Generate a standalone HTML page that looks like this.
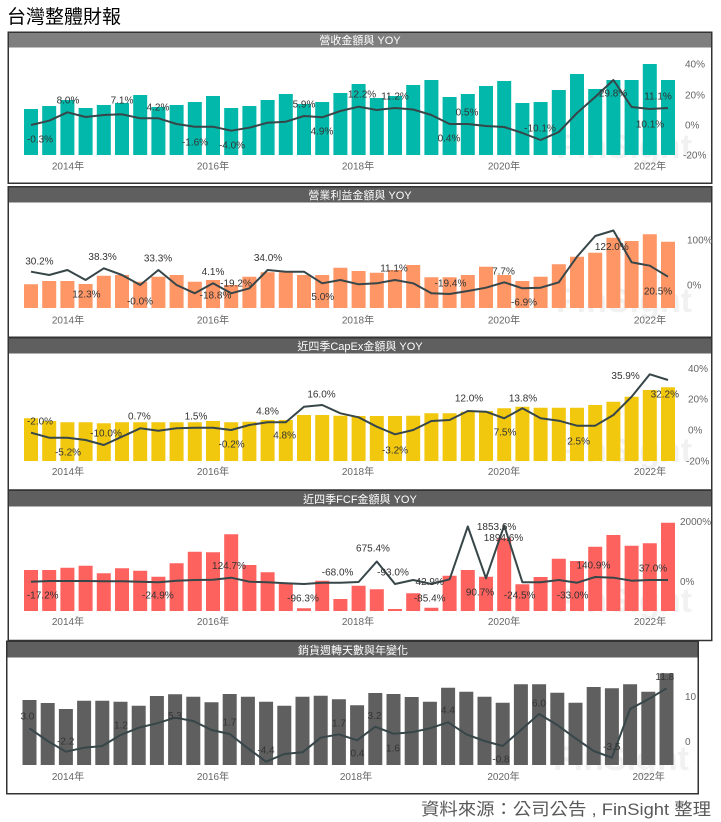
<!DOCTYPE html>
<html><head><meta charset="utf-8"><style>
html,body{margin:0;padding:0;background:#fff;}
svg{display:block;}
.t{font-family:"Liberation Sans","Noto Sans CJK TC",sans-serif;}
.lb{font-family:"Liberation Sans",sans-serif;font-size:10px;fill:#333;text-anchor:middle;}
.yr{font-family:"Liberation Sans","Noto Sans CJK TC",sans-serif;font-size:10px;fill:#666;text-anchor:middle;}
.ax{font-family:"Liberation Sans",sans-serif;font-size:10px;fill:#666;}
.tt{font-family:"Liberation Sans","Noto Sans CJK TC",sans-serif;font-size:11px;fill:#fff;text-anchor:middle;}
.wm{font-family:"Liberation Sans",sans-serif;font-size:34px;font-weight:bold;fill:#f1f1f1;}
.ln{fill:none;stroke:#374649;stroke-width:2;stroke-linejoin:round;}
</style></head><body>
<svg width="721" height="822" viewBox="0 0 721 822" xmlns="http://www.w3.org/2000/svg">
<rect width="721" height="822" fill="#fff"/>
<text class="t" x="7" y="23" font-size="19" fill="#000">台灣整體財報</text>

<!-- Panel 1 -->
<rect x="8.25" y="32.25" width="703.5" height="151" fill="#fff" stroke="#333" stroke-width="1.5"/>
<rect x="9" y="33" width="702" height="14.5" fill="#7f7f7f"/>
<text class="tt" x="360" y="44">營收金額與 YOY</text>
<text class="wm" x="556" y="158">FinSight</text>
<path fill="#01B8AA" d="M24 155V109h14V155z M42.2 155V106h14V155z M60.4 155V100h14V155z M78.6 155V108h14V155z M96.8 155V105h14V155z M115 155V103h14V155z M133.2 155V95h14V155z M151.4 155V107h14V155z M169.6 155V105h14V155z M187.8 155V102h14V155z M206 155V96h14V155z M224.2 155V108h14V155z M242.4 155V106h14V155z M260.6 155V100h14V155z M278.8 155V94h14V155z M297 155V104h14V155z M315.2 155V102h14V155z M333.4 155V93h14V155z M351.6 155V84h14V155z M369.8 155V98h14V155z M388 155V96h14V155z M406.2 155V85h14V155z M424.4 155V80h14V155z M442.6 155V97h14V155z M460.8 155V94h14V155z M479 155V86h14V155z M497.2 155V81h14V155z M515.4 155V103h14V155z M533.6 155V102h14V155z M551.8 155V90h14V155z M570 155V74h14V155z M588.2 155V89h14V155z M606.4 155V80h14V155z M624.6 155V80h14V155z M642.8 155V64h14V155z M661 155V80h14V155z"/>
<polyline class="ln" points="31,125 49.2,120.7 67.4,112.3 85.6,117 103.8,115 122,114.3 140.2,118.3 158.4,118.3 176.6,124 194.8,126.7 213,126.7 231.2,130.7 249.4,127.7 267.6,122.7 285.8,121.7 304,116 322.2,117.3 340.4,111 358.6,106.7 376.8,110 395,108 413.2,109.5 431.4,115 449.6,124 467.8,124 486,126 504.2,127 522.4,133 540.6,140 558.8,132 577,113 595.2,97 613.4,80 631.6,107 649.8,109 668,108"/>
<text class="lb" x="40" y="142.5">-0.3%</text>
<text class="lb" x="68" y="103.5">8.0%</text>
<text class="lb" x="122" y="103.5">7.1%</text>
<text class="lb" x="158" y="110.5">4.2%</text>
<text class="lb" x="195" y="145.5">-1.6%</text>
<text class="lb" x="232" y="148.5">-4.0%</text>
<text class="lb" x="304" y="107.5">5.9%</text>
<text class="lb" x="322" y="134.5">4.9%</text>
<text class="lb" x="362" y="97.5">12.2%</text>
<text class="lb" x="395" y="99.5">11.2%</text>
<text class="lb" x="467" y="115.5">0.5%</text>
<text class="lb" x="449" y="141.5">0.4%</text>
<text class="lb" x="540" y="131.5">-10.1%</text>
<text class="lb" x="613" y="96.5">29.8%</text>
<text class="lb" x="658" y="99.5">11.1%</text>
<text class="lb" x="650" y="127.5">10.1%</text>
<text class="yr" x="68" y="169.5">2014年</text>
<text class="yr" x="213" y="169.5">2016年</text>
<text class="yr" x="358" y="169.5">2018年</text>
<text class="yr" x="504" y="169.5">2020年</text>
<text class="yr" x="650" y="169.5">2022年</text>
<text class="ax" x="685" y="67.5">40%</text>
<text class="ax" x="685" y="98.5">20%</text>
<text class="ax" x="685" y="128.5">0%</text>
<text class="ax" x="683" y="158.5">-20%</text>

<!-- Panel 2 -->
<rect x="8.25" y="186.75" width="703.5" height="150.5" fill="#fff" stroke="#333" stroke-width="1.5"/>
<rect x="9" y="187.5" width="702" height="15" fill="#5f5f5f"/>
<text class="tt" x="360" y="199">營業利益金額與 YOY</text>
<text class="wm" x="556" y="312">FinSight</text>
<path fill="#FE9666" d="M24 308V284.3h14V308z M42.2 308V281h14V308z M60.4 308V281h14V308z M78.6 308V284h14V308z M96.8 308V275.7h14V308z M115 308V275h14V308z M133.2 308V281.7h14V308z M151.4 308V276.7h14V308z M169.6 308V275h14V308z M187.8 308V281.7h14V308z M206 308V280h14V308z M224.2 308V285h14V308z M242.4 308V276.7h14V308z M260.6 308V272.3h14V308z M278.8 308V272.3h14V308z M297 308V275h14V308z M315.2 308V275h14V308z M333.4 308V267.7h14V308z M351.6 308V271h14V308z M369.8 308V272.7h14V308z M388 308V270h14V308z M406.2 308V265h14V308z M424.4 308V277.3h14V308z M442.6 308V277.3h14V308z M460.8 308V275h14V308z M479 308V266.7h14V308z M497.2 308V275h14V308z M515.4 308V281h14V308z M533.6 308V276.7h14V308z M551.8 308V264.3h14V308z M570 308V256.7h14V308z M588.2 308V252.7h14V308z M606.4 308V237.7h14V308z M624.6 308V241h14V308z M642.8 308V234.3h14V308z M661 308V241.7h14V308z"/>
<polyline class="ln" points="31,271.7 49.2,275 67.4,270 85.6,280 103.8,268.3 122,275 140.2,285 158.4,270 176.6,285 194.8,293.3 213,283.3 231.2,293.3 249.4,288.3 267.6,270 285.8,271.7 304,271.7 322.2,283.3 340.4,280 358.6,284.3 376.8,283.3 395,280 413.2,283.3 431.4,293.3 449.6,294 467.8,291 486,287.7 504.2,282.3 522.4,288.3 540.6,287.7 558.8,282.3 577,256.7 595.2,236 613.4,230.5 631.6,262.3 649.8,265.7 668,276.7"/>
<text class="lb" x="39.4" y="264.5">30.2%</text>
<text class="lb" x="102.6" y="260">38.3%</text>
<text class="lb" x="86.4" y="297.5">12.3%</text>
<text class="lb" x="158" y="261.5">33.3%</text>
<text class="lb" x="140" y="304.5">-0.0%</text>
<text class="lb" x="213" y="275">4.1%</text>
<text class="lb" x="236" y="286.5">-19.2%</text>
<text class="lb" x="215.5" y="298.5">-18.8%</text>
<text class="lb" x="268" y="261">34.0%</text>
<text class="lb" x="322.8" y="300">5.0%</text>
<text class="lb" x="394" y="271.5">11.1%</text>
<text class="lb" x="450.5" y="286.5">-19.4%</text>
<text class="lb" x="503.5" y="274.5">7.7%</text>
<text class="lb" x="524" y="305.5">-6.9%</text>
<text class="lb" x="611.8" y="250">122.0%</text>
<text class="lb" x="658" y="294.5">20.5%</text>
<text class="yr" x="68" y="323.5">2014年</text>
<text class="yr" x="213" y="323.5">2016年</text>
<text class="yr" x="358" y="323.5">2018年</text>
<text class="yr" x="504" y="323.5">2020年</text>
<text class="yr" x="650" y="323.5">2022年</text>
<text class="ax" x="687" y="243.5">100%</text>
<text class="ax" x="687" y="288.5">0%</text>

<!-- Panel 3 -->
<rect x="8.25" y="337.75" width="703.5" height="152.25" fill="#fff" stroke="#333" stroke-width="1.5"/>
<rect x="9" y="338.5" width="702" height="15" fill="#5f5f5f"/>
<text class="tt" x="360" y="350">近四季CapEx金額與 YOY</text>
<text class="wm" x="556" y="462">FinSight</text>
<path fill="#F2C80F" d="M24 461V418.3h14V461z M42.2 461V421h14V461z M60.4 461V422.3h14V461z M78.6 461V422.3h14V461z M96.8 461V423.3h14V461z M115 461V422.3h14V461z M133.2 461V422.3h14V461z M151.4 461V422.3h14V461z M169.6 461V422.3h14V461z M187.8 461V422.3h14V461z M206 461V421h14V461z M224.2 461V422.3h14V461z M242.4 461V421.7h14V461z M260.6 461V420h14V461z M278.8 461V420h14V461z M297 461V415h14V461z M315.2 461V415h14V461z M333.4 461V415.7h14V461z M351.6 461V416h14V461z M369.8 461V416h14V461z M388 461V416h14V461z M406.2 461V415.7h14V461z M424.4 461V413.3h14V461z M442.6 461V413.3h14V461z M460.8 461V411.7h14V461z M479 461V411h14V461z M497.2 461V408.3h14V461z M515.4 461V406.7h14V461z M533.6 461V407.7h14V461z M551.8 461V407.7h14V461z M570 461V407.7h14V461z M588.2 461V405h14V461z M606.4 461V401.7h14V461z M624.6 461V396.7h14V461z M642.8 461V390h14V461z M661 461V387.3h14V461z"/>
<polyline class="ln" points="31,432.7 49.2,437.7 67.4,437.7 85.6,440 103.8,445 122,436.7 140.2,428.3 158.4,430.7 176.6,428.3 194.8,427.7 213,427.7 231.2,430 249.4,425 267.6,422.3 285.8,422.3 304,406.7 322.2,405 340.4,413.3 358.6,417.3 376.8,426.7 395,434.3 413.2,430 431.4,421 449.6,420 467.8,411 486,411.7 504.2,418.3 522.4,408.3 540.6,418.3 558.8,420.7 577,425.7 595.2,425.7 613.4,415 631.6,396.7 649.8,374.3 668,380"/>
<text class="lb" x="40" y="424.5">-2.0%</text>
<text class="lb" x="68" y="455.5">-5.2%</text>
<text class="lb" x="106" y="436.5">-10.0%</text>
<text class="lb" x="139.4" y="419.5">0.7%</text>
<text class="lb" x="196" y="419.5">1.5%</text>
<text class="lb" x="231.6" y="447.5">-0.2%</text>
<text class="lb" x="267.5" y="414.5">4.8%</text>
<text class="lb" x="284.6" y="438.5">4.8%</text>
<text class="lb" x="321.5" y="397.5">16.0%</text>
<text class="lb" x="395" y="453.5">-3.2%</text>
<text class="lb" x="469" y="401.5">12.0%</text>
<text class="lb" x="505" y="435.5">7.5%</text>
<text class="lb" x="523" y="401.5">13.8%</text>
<text class="lb" x="578.6" y="444.5">2.5%</text>
<text class="lb" x="625.6" y="379">35.9%</text>
<text class="lb" x="664.8" y="397.5">32.2%</text>
<text class="yr" x="68" y="475">2014年</text>
<text class="yr" x="213" y="475">2016年</text>
<text class="yr" x="358" y="475">2018年</text>
<text class="yr" x="504" y="475">2020年</text>
<text class="yr" x="650" y="475">2022年</text>
<text class="ax" x="688" y="371.8">40%</text>
<text class="ax" x="688" y="402.5">20%</text>
<text class="ax" x="688" y="433.5">0%</text>
<text class="ax" x="686" y="464.5">-20%</text>

<!-- Panel 4 -->
<rect x="8.25" y="490.25" width="703.5" height="150.25" fill="#fff" stroke="#333" stroke-width="1.5"/>
<rect x="9" y="491" width="702" height="15.5" fill="#5f5f5f"/>
<text class="tt" x="360" y="503">近四季FCF金額與 YOY</text>
<text class="wm" x="556" y="612">FinSight</text>
<path fill="#FD625E" d="M24 611V570h14V611z M42.2 611V570h14V611z M60.4 611V567.7h14V611z M78.6 611V565.7h14V611z M96.8 611V573.3h14V611z M115 611V568.3h14V611z M133.2 611V570.7h14V611z M151.4 611V576.7h14V611z M169.6 611V563.3h14V611z M187.8 611V551.7h14V611z M206 611V552.3h14V611z M224.2 611V534.3h14V611z M242.4 611V565h14V611z M260.6 611V572.3h14V611z M278.8 611V584h14V611z M297 611V608.3h14V611z M315.2 611V580.7h14V611z M333.4 611V599h14V611z M351.6 611V585.7h14V611z M369.8 611V589.3h14V611z M388 611V609h14V611z M406.2 611V593.3h14V611z M424.4 611V607.7h14V611z M442.6 611V575.7h14V611z M460.8 611V570h14V611z M479 611V576.7h14V611z M497.2 611V538.3h14V611z M515.4 611V584.3h14V611z M533.6 611V577h14V611z M551.8 611V558.7h14V611z M570 611V561h14V611z M588.2 611V546.7h14V611z M606.4 611V535h14V611z M624.6 611V545.7h14V611z M642.8 611V543.3h14V611z M661 611V522.7h14V611z"/>
<polyline class="ln" points="31,581.7 49.2,581 67.4,581 85.6,581 103.8,581.3 122,581.3 140.2,581.7 158.4,582.3 176.6,580.7 194.8,580 213,579.7 231.2,577.7 249.4,581.7 267.6,582.3 285.8,583.3 304,584 322.2,582.7 340.4,582.7 358.6,582 376.8,561.5 395,584 413.2,580 431.4,584 449.6,579.3 467.8,526.5 486,578.3 504.2,525.5 522.4,582.3 540.6,582.3 558.8,580 577,582.7 595.2,577 613.4,577.7 631.6,580.7 649.8,580 668,580"/>
<text class="lb" x="42.7" y="598.5">-17.2%</text>
<text class="lb" x="157.9" y="598.5">-24.9%</text>
<text class="lb" x="229" y="569">124.7%</text>
<text class="lb" x="303" y="601.5">-96.3%</text>
<text class="lb" x="337.6" y="575.5">-68.0%</text>
<text class="lb" x="373" y="551.5">675.4%</text>
<text class="lb" x="393" y="575.5">-93.0%</text>
<text class="lb" x="429.7" y="585">42.9%</text>
<text class="lb" x="429.7" y="601.5">-85.4%</text>
<text class="lb" x="496.6" y="530">1853.6%</text>
<text class="lb" x="503.5" y="541">1894.6%</text>
<text class="lb" x="480" y="595.5">90.7%</text>
<text class="lb" x="519.6" y="598.5">-24.5%</text>
<text class="lb" x="572.6" y="598.5">-33.0%</text>
<text class="lb" x="593.4" y="568.5">140.9%</text>
<text class="lb" x="653" y="571.5">37.0%</text>
<text class="yr" x="68" y="625">2014年</text>
<text class="yr" x="213" y="625">2016年</text>
<text class="yr" x="358" y="625">2018年</text>
<text class="yr" x="504" y="625">2020年</text>
<text class="yr" x="650" y="625">2022年</text>
<text class="ax" x="680" y="525">2000%</text>
<text class="ax" x="680" y="585">0%</text>

<!-- Panel 5 -->
<rect x="6.75" y="641.25" width="691.5" height="152.5" fill="#fff" stroke="#333" stroke-width="1.5"/>
<rect x="7.5" y="642" width="690" height="15.5" fill="#5f5f5f"/>
<text class="tt" x="353" y="654">銷貨週轉天數與年變化</text>
<text class="wm" x="553" y="770">FinSight</text>
<g transform="translate(-1.5,0)">
<path fill="#5f5f5f" d="M24 765V700h14V765z M42.2 765V703h14V765z M60.4 765V709h14V765z M78.6 765V700.7h14V765z M96.8 765V700.7h14V765z M115 765V701.7h14V765z M133.2 765V705.7h14V765z M151.4 765V696h14V765z M169.6 765V694.3h14V765z M187.8 765V696.7h14V765z M206 765V702.3h14V765z M224.2 765V694h14V765z M242.4 765V696.7h14V765z M260.6 765V701.7h14V765z M278.8 765V705.7h14V765z M297 765V696.7h14V765z M315.2 765V695.7h14V765z M333.4 765V699.3h14V765z M351.6 765V705.3h14V765z M369.8 765V693h14V765z M388 765V694h14V765z M406.2 765V697h14V765z M424.4 765V701.7h14V765z M442.6 765V687.7h14V765z M460.8 765V691.7h14V765z M479 765V696.7h14V765z M497.2 765V702.7h14V765z M515.4 765V684.3h14V765z M533.6 765V684.3h14V765z M551.8 765V692.7h14V765z M570 765V702.7h14V765z M588.2 765V687h14V765z M606.4 765V688.3h14V765z M624.6 765V684.3h14V765z M642.8 765V691.7h14V765z M661 765V673.3h14V765z"/>
<polyline class="ln" points="31,728.3 49.2,741 67.4,751.7 85.6,747.7 103.8,746 122,735 140.2,727.7 158.4,723.3 176.6,717.7 194.8,721 213,730 231.2,734 249.4,748.3 267.6,761.7 285.8,754 304,752.3 322.2,737.7 340.4,734.3 358.6,740.3 376.8,726.7 395,733.7 413.2,732.3 431.4,728.3 449.6,722.3 467.8,734.3 486,741 504.2,746 522.4,730 540.6,714 558.8,725 577,738.3 595.2,751 613.4,757.7 631.6,709 649.8,699.3 668,688.3"/>
</g>
<text class="lb" x="27.4" y="719.5">3.0</text>
<text class="lb" x="65.7" y="744.5">-2.2</text>
<text class="lb" x="121" y="728.5">1.2</text>
<text class="lb" x="175" y="719">5.3</text>
<text class="lb" x="229.4" y="725.5">1.7</text>
<text class="lb" x="266" y="753.5">-4.4</text>
<text class="lb" x="339" y="726.5">1.7</text>
<text class="lb" x="357.4" y="756.5">0.4</text>
<text class="lb" x="374.5" y="719">3.2</text>
<text class="lb" x="393" y="751.5">1.6</text>
<text class="lb" x="448" y="713.5">4.4</text>
<text class="lb" x="501" y="762.5">-0.8</text>
<text class="lb" x="539" y="706.5">6.0</text>
<text class="lb" x="611.8" y="750">-3.5</text>
<text class="lb" x="664.8" y="680">11.8</text>
<text class="yr" x="68" y="780">2014年</text>
<text class="yr" x="213" y="780">2016年</text>
<text class="yr" x="356" y="780">2018年</text>
<text class="yr" x="503.5" y="780">2020年</text>
<text class="yr" x="648.6" y="780">2022年</text>
<text class="ax" x="685" y="700">10</text>
<text class="ax" x="685" y="745">0</text>

<text class="t" x="711" y="815" font-size="17" fill="#595959" text-anchor="end" textLength="290" lengthAdjust="spacingAndGlyphs">資料來源：公司公告 , FinSight 整理</text>
</svg>
</body></html>
